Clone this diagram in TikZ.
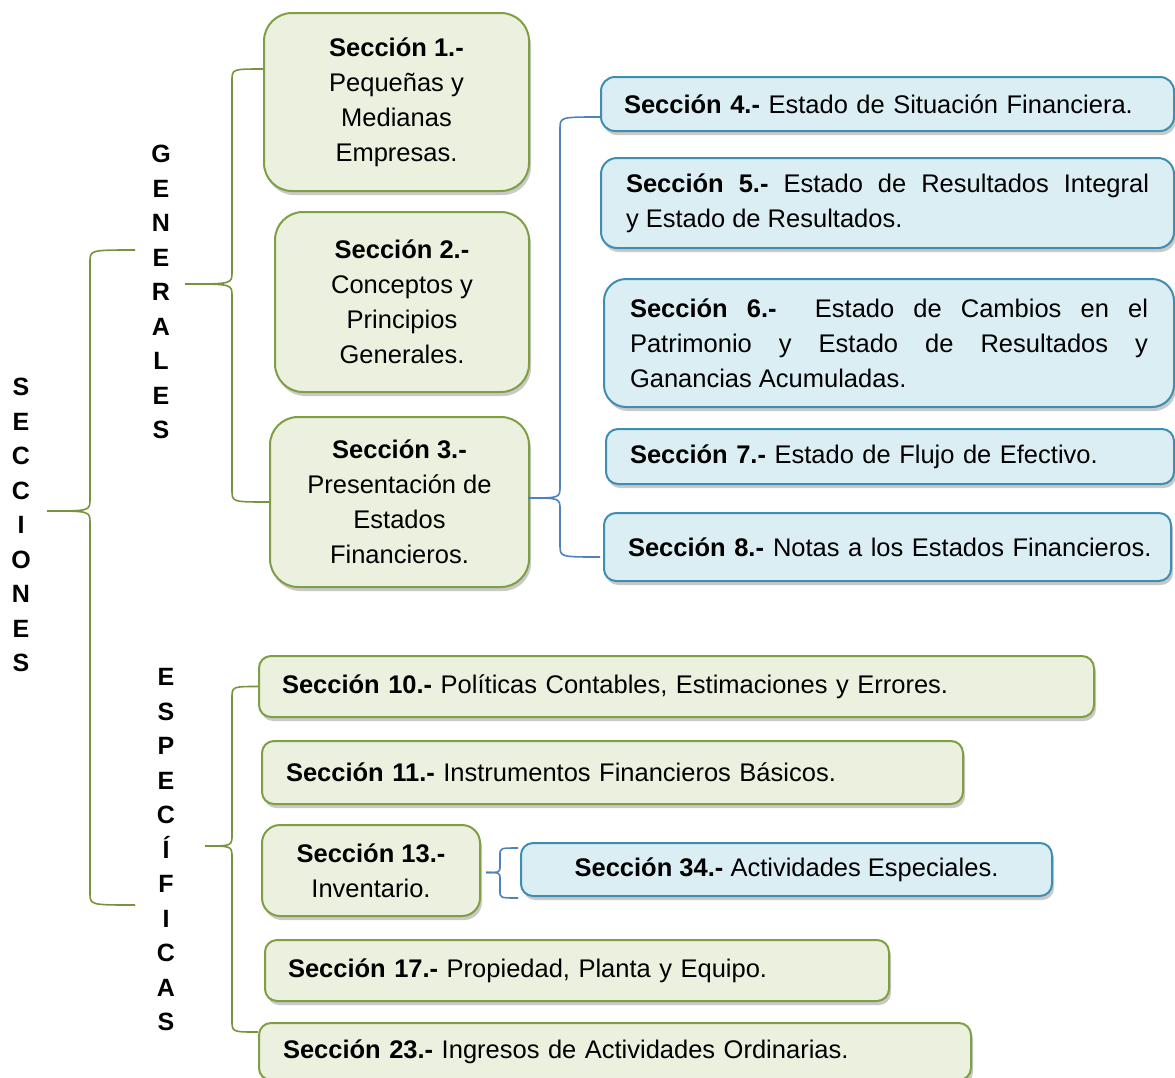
\documentclass[tikz,border=0pt]{standalone}
\usepackage{fontspec}
\setmainfont{Liberation Sans}
\usetikzlibrary{calc,shadows}

\definecolor{verdeBorde}{HTML}{7F9F45}
\definecolor{verdeFondo}{HTML}{EBF1DE}
\definecolor{verdeLlave}{HTML}{77933C}
\definecolor{azulBorde}{HTML}{3F8DB0}
\definecolor{azulFondo}{HTML}{DBEEF4}
\definecolor{azulLlave}{HTML}{4F81BD}

% llave: color, punta, extremo arriba, extremo abajo, eje, radio
\newcommand{\llave}[6]{%
  \draw[#1] (#3) .. controls (#5|-#3) .. ($(#5|-#3)+(0,#6)$) -- ($(#5|-#2)-(0,#6)$) .. controls (#5|-#2) .. (#2);
  \draw[#1] (#4) .. controls (#5|-#4) .. ($(#5|-#4)-(0,#6)$) -- ($(#5|-#2)+(0,#6)$) .. controls (#5|-#2) .. (#2);}

\begin{document}
\begin{tikzpicture}[x=1pt,y=-1pt,
    caja/.style={draw,line width=2pt,inner sep=0pt,
      drop shadow={shadow xshift=2pt,shadow yshift=-4pt,opacity=.3,fill=black!70},
      font=\fontsize{25.5}{35}\selectfont},
    cajaverde/.style={caja,draw=verdeBorde,fill=verdeFondo},
    cajaazul/.style={caja,draw=azulBorde,fill=azulFondo},
    letras/.style={font=\fontsize{25}{34.5}\selectfont\bfseries,align=center,inner sep=0pt},
    lverde/.style={draw=verdeLlave,line width=1.6pt},
    lazul/.style={draw=azulLlave,line width=1.6pt}]
    \useasboundingbox (0,0) rectangle (1175,1077);

    % titulos verticales
    \node[letras] (secciones) at (21,525)  {S\\E\\C\\C\\I\\O\\N\\E\\S};
    \node[letras] (generales) at (161,292) {G\\E\\N\\E\\R\\A\\L\\E\\S};
    \node[letras] (especificas) at (166,850) {E\\S\\P\\E\\C\\Í\\F\\I\\C\\A\\S};

    % secciones generales
    \node[cajaverde,rounded corners=28pt,minimum width=265pt,minimum height=178pt,align=center,anchor=north west]
        (s1) at (263,12) {\textbf{Sección 1.-}\\Pequeñas y\\Medianas\\Empresas.};
    \node[cajaverde,rounded corners=28pt,minimum width=254pt,minimum height=180pt,align=center,anchor=north west]
        (s2) at (274,211) {\textbf{Sección 2.-}\\Conceptos y\\Principios\\Generales.};
    \node[cajaverde,rounded corners=28pt,minimum width=259pt,minimum height=170pt,align=center,anchor=north west]
        (s3) at (269,416) {\textbf{Sección 3.-}\\Presentación de\\Estados\\Financieros.};

    % estados financieros
    \node[cajaazul,rounded corners=14pt,text width=527pt,inner xsep=23pt,minimum height=54pt,align=left,anchor=north west]
        (s4) at (600,76) {\textbf{Sección 4.-} Estado de Situación Financiera.};
    \node[cajaazul,rounded corners=16pt,text width=523pt,inner xsep=25pt,minimum height=90pt,align=justify,anchor=north west]
        (s5) at (600,157) {\textbf{Sección 5.-} Estado de Resultados Integral\linebreak y Estado de Resultados.};
    \node[cajaazul,rounded corners=22pt,text width=518pt,inner xsep=26pt,minimum height=128pt,align=justify,anchor=north west]
        (s6) at (603,278) {\textbf{Sección 6.-}\ \ Estado de Cambios en el\linebreak Patrimonio y Estado de Resultados y\linebreak Ganancias Acumuladas.};
    \node[cajaazul,rounded corners=12pt,text width=520pt,inner xsep=24pt,minimum height=55pt,align=left,anchor=north west]
        (s7) at (605,428) {\textbf{Sección 7.-} Estado de Flujo de Efectivo.};
    \node[cajaazul,rounded corners=12pt,text width=519pt,inner xsep=24pt,minimum height=68pt,align=left,anchor=north west]
        (s8) at (603,512) {\mbox{\textbf{Sección 8.-}\hspace{9pt}Notas a los Estados Financieros.}};

    % secciones especificas
    \node[cajaverde,rounded corners=12pt,text width=789pt,inner xsep=23pt,minimum height=61pt,align=left,anchor=north west]
        (s10) at (258,655) {\textbf{Sección 10.-} Políticas Contables, Estimaciones y Errores.};
    \node[cajaverde,rounded corners=12pt,text width=653pt,inner xsep=24pt,minimum height=63pt,align=left,anchor=north west]
        (s11) at (261,740) {\textbf{Sección 11.-} Instrumentos Financieros Básicos.};
    \node[cajaverde,rounded corners=18pt,minimum width=218pt,minimum height=91pt,align=center,anchor=north west]
        (s13) at (261,824) {\textbf{Sección 13.-}\\Inventario.};
    \node[cajaazul,rounded corners=12pt,minimum width=531pt,minimum height=53pt,align=center,anchor=north west]
        (s34) at (520,842) {\textbf{Sección 34.-} Actividades Especiales.};
    \node[cajaverde,rounded corners=12pt,text width=578pt,inner xsep=23pt,minimum height=61pt,align=left,anchor=north west]
        (s17) at (264,939) {\textbf{Sección 17.-} Propiedad, Planta y Equipo.};
    \node[cajaverde,rounded corners=12pt,text width=664pt,inner xsep=24pt,minimum height=57pt,align=left,anchor=north west]
        (s23) at (258,1022) {\textbf{Sección 23.-} Ingresos de Actividades Ordinarias.};

    % puntos de las llaves
    \coordinate (pS) at (47,511);  \coordinate (eS) at (90,0);
    \coordinate (aS) at (135,250); \coordinate (bS) at (135,905);
    \coordinate (pG) at (185,284); \coordinate (eG) at (232,0);
    \coordinate (aG) at ($(s1.west)+(0,-33)$);
    \coordinate (bG) at (s3.west);
    \coordinate (pE) at (205,846); \coordinate (eE) at (232,0);
    \coordinate (aE) at (s10.west);
    \coordinate (bE) at ($(s23.north west)+(0,10)$);
    \coordinate (pA) at ($(s3.east)+(-2,-4)$); \coordinate (eA) at (560,0);
    \coordinate (aA) at ($(s4.west)+(0,13)$);
    \coordinate (bA) at ($(s8.west)+(-3,10)$);
    \coordinate (pB) at ($(s13.east)+(5,2)$); \coordinate (eB) at (500,0);
    \coordinate (aB) at ($(s34.north west)+(-2,6)$);
    \coordinate (bB) at ($(s34.south west)+(-2,1)$);

    \llave{lverde}{pS}{aS}{bS}{eS}{12}
    \llave{lverde}{pG}{aG}{bG}{eG}{12}
    \llave{lverde}{pE}{aE}{bE}{eE}{12}
    \llave{lazul}{pA}{aA}{bA}{eA}{12}
    \llave{lazul}{pB}{aB}{bB}{eB}{7}
\end{tikzpicture}
\end{document}
